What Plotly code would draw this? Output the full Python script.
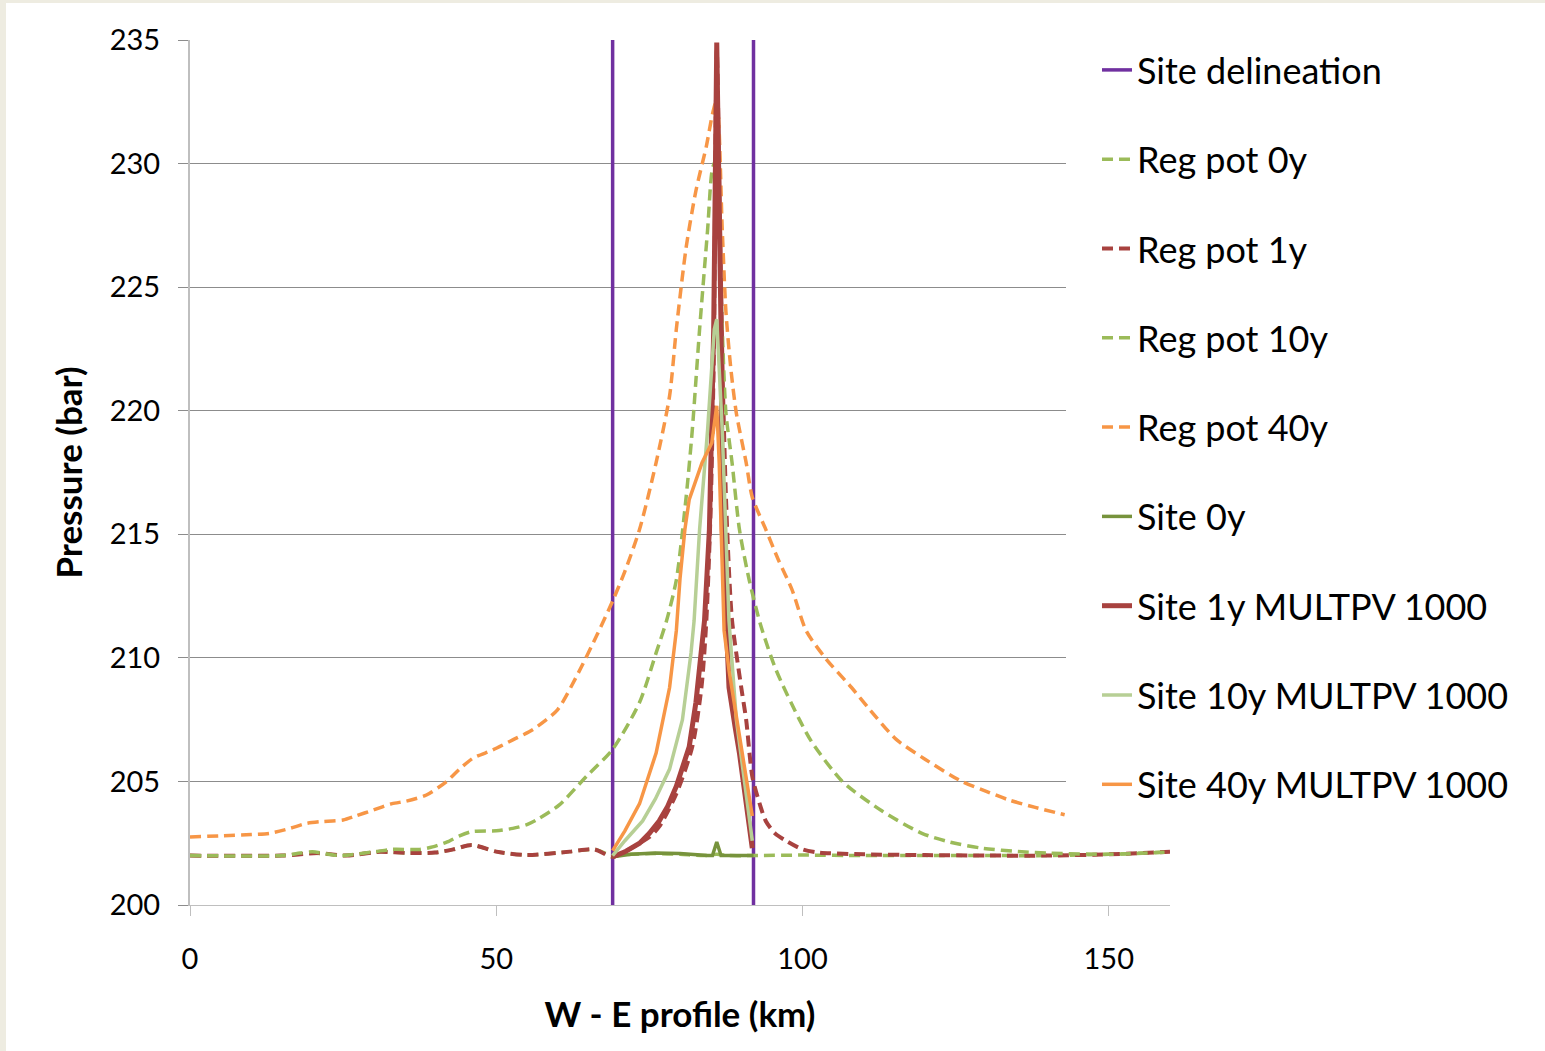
import plotly.graph_objects as go

# ---- data: W-E pressure profile (km, bar) ----
site_bounds_km = [69, 92]

reg0_x = [0, 15, 20, 25, 31, 36, 40, 43, 46, 50, 55, 62, 66, 69, 72, 76, 80, 84, 86, 88, 92,
          100, 110, 120, 130, 140, 150, 160]
reg0_y = [202.0, 202.0, 202.1, 202.0, 202.15, 202.1, 202.12, 202.25, 202.43, 202.16, 202.02,
          202.16, 202.25, 202.0, 202.05, 202.08, 202.05, 202.0, 202.05, 202.0, 202.0,
          202.02, 202.0, 202.0, 202.0, 202.0, 202.05, 202.15]

reg1_x = [0, 15, 21, 25.5, 31, 36, 40, 43, 46, 50, 55, 62, 66, 69, 72, 75, 76.6, 79.4, 82, 83.5,
          84.3, 85, 85.5, 86, 86.5, 87, 87.5, 88, 88.5, 90, 90.8, 91.8, 93, 94, 95.5, 97.3,
          100, 102.7, 110, 120, 130, 140, 150, 160]
reg1_y = [202.0, 202.0, 202.1, 202.0, 202.15, 202.1, 202.12, 202.25, 202.43, 202.16, 202.02,
          202.16, 202.25, 201.95, 202.3, 202.75, 203.17, 204.5, 206.4, 208.8,
          211.5, 216.0, 222.0, 234.6, 228.0, 221.0, 216.5, 213.5, 211.5, 208.8, 207.5, 205.2,
          204.1, 203.4, 202.9, 202.6, 202.25, 202.12, 202.05, 202.02, 202.0, 202.0, 202.05, 202.15]

reg10_x = [0, 15, 18, 20, 24.5, 30, 33, 37.5, 39.6, 42, 44, 46, 50, 52.7, 55, 57, 60.3, 64.7,
           69, 73.4, 76.1, 77.8, 79.4, 81, 82, 83.2, 84.5, 85.3, 86, 86.4, 86.9, 87.5, 88.5,
           89.7, 91.3, 93.2, 95.7, 99.5, 101.5, 106.5, 113, 119.5, 124, 129.3, 135.8, 140,
           150, 160]
reg10_y = [202.0, 202.0, 202.1, 202.15, 202.0, 202.15, 202.25, 202.25, 202.35, 202.55, 202.8,
           202.97, 203.0, 203.1, 203.25, 203.5, 204.05, 205.2,
           206.3, 208.2, 210.2, 211.5, 213.15, 216.5, 219.2, 223.3, 227.3, 229.8, 230.2, 227.3,
           223.3, 219.9, 217.9, 215.2, 213.15, 211.3, 209.5, 207.5, 206.6, 205.0, 203.8, 202.9,
           202.55, 202.3, 202.15, 202.1, 202.05, 202.15]

reg40_x = [0, 5, 10, 13, 16.3, 19, 21.2, 25, 27, 29.9, 33, 35.3, 38.6, 41.9, 44, 46.2, 49.4,
           52.7, 56, 60, 63, 66.4, 69, 71, 73.4, 76.1, 78.3, 79.4, 81, 82.6, 84.3, 85.3, 86,
           86.9, 87.5, 88.3, 89.2, 90.8, 91.8, 94, 96, 98.3, 100.6, 103.7, 108, 111, 115.3,
           120, 126, 130, 133.7, 138, 142.8]
reg40_y = [202.75, 202.8, 202.85, 202.9, 203.1, 203.3, 203.37, 203.44, 203.6, 203.84, 204.1,
           204.2, 204.45, 205.0, 205.5, 205.94, 206.27, 206.68, 207.1, 207.9, 209.2, 210.9,
           212.3, 213.5, 215.2, 217.9, 220.6, 223.3, 226.6, 228.9, 230.7, 232.0, 232.6,
           227.3, 224.0, 221.7, 219.9, 217.9, 216.5, 215.2, 214.0, 212.75, 211.1, 210.0,
           208.8, 207.9, 206.7, 205.9, 205.0, 204.6, 204.25, 203.95, 203.65]

site0_x = [69, 72, 76, 80, 84.5, 85.3, 86, 86.7, 92]
site0_y = [201.95, 202.05, 202.1, 202.08, 202.0, 202.0, 202.55, 202.0, 202.0]

site1_x = [69, 71, 73.4, 75, 76.6, 78, 79.4, 80.5, 81.5, 82.6, 83.5, 84, 84.8, 85.2, 85.5, 86,
           86.3, 86.7, 86.9, 87.5, 88, 89, 89.7, 91.8]
site1_y = [201.95, 202.15, 202.5, 202.9, 203.4, 204.0, 204.8, 205.6, 206.4, 208.2, 210.2,
           211.5, 215.2, 219.2, 223.3, 234.9, 230.0, 223.3, 215.2, 211.5, 208.8, 207.2,
           206.15, 202.3]

site10_x = [69, 71, 73.9, 76, 78.3, 80.4, 81.8, 82.3, 83.2, 84.5, 85.6, 86, 86.9, 87.5, 88,
            89.2, 91.8]
site10_y = [202.0, 202.6, 203.4, 204.3, 205.5, 207.5, 210.2, 211.5, 215.2, 219.2, 223.3,
            223.7, 219.2, 215.2, 211.5, 207.5, 202.6]

site40_x = [69, 71, 73.4, 76.1, 78.3, 79.4, 80, 80.8, 81.5, 83.6, 85.2, 86, 86.4, 86.7, 87.2,
            88, 89.7, 91.8]
site40_y = [202.2, 203.0, 204.1, 206.15, 208.8, 211.1, 213.2, 215.2, 216.4, 217.9, 218.7,
            220.2, 217.9, 215.2, 211.1, 209.5, 206.8, 203.6]

y_range = [200, 235]
x_range = [0, 160]

PURPLE = "#7030A0"
OLIVE = "#9BBB59"
OLIVE_DARK = "#77933C"
OLIVE_LIGHT = "#B7CF95"
RED = "#A8423F"
ORANGE = "#F79646"
DASH = "11px,6px"
FONT = "Lato, 'Open Sans', sans-serif"

fig = go.Figure()

# site boundaries as two vertical segments
bx, by = [], []
for b in site_bounds_km:
    bx += [b, b, None]
    by += [y_range[0], y_range[1], None]

# name, x, y, colour, dash, width, smoothed
series = [
    ("Site delineation", bx, by, PURPLE, "solid", 3.5, False),
    ("Reg pot 0y", reg0_x, reg0_y, OLIVE, DASH, 3.5, True),
    ("Reg pot 1y", reg1_x, reg1_y, RED, DASH, 4, True),
    ("Reg pot 10y", reg10_x, reg10_y, OLIVE, DASH, 3.5, True),
    ("Reg pot 40y", reg40_x, reg40_y, ORANGE, DASH, 3.5, True),
    ("Site 0y", site0_x, site0_y, OLIVE_DARK, "solid", 3.5, False),
    ("Site 1y MULTPV 1000", site1_x, site1_y, RED, "solid", 5, False),
    ("Site 10y MULTPV 1000", site10_x, site10_y, OLIVE_LIGHT, "solid", 3.5, False),
    ("Site 40y MULTPV 1000", site40_x, site40_y, ORANGE, "solid", 3.5, False),
]

for i, (name, xs, ys, color, dash, width, smooth) in enumerate(series):
    line = dict(color=color, dash=dash, width=width)
    if smooth:
        line.update(shape="spline", smoothing=0.7)
    fig.add_trace(go.Scatter(
        x=xs, y=ys, name=name, mode="lines", legendgroup=f"g{i}",
        line=line, connectgaps=False, hoverinfo="skip",
    ))

# plot geometry in pixels
W, H = 1545, 1051
L, R, T, B = 190, 1170, 40, 905
pw, ph = R - L, B - T


def px_x(p):
    return (p - L) / pw


def px_y(p):
    return (B - p) / ph


shapes = [
    # white sheet over the tan page border
    dict(type="rect", xref="paper", yref="paper", layer="below",
         x0=px_x(6), x1=px_x(W + 5), y0=px_y(H + 5), y1=px_y(3),
         fillcolor="white", line=dict(width=0)),
    # legend panel covering the right part of the plot
    dict(type="rect", xref="paper", yref="paper", layer="above",
         x0=px_x(1066), x1=px_x(1172), y0=px_y(840), y1=px_y(36),
         fillcolor="white", line=dict(width=0)),
]

fig.update_layout(
    width=W, height=H,
    margin=dict(l=L, r=W - R, t=T, b=H - B, pad=0),
    paper_bgcolor="#EEECE1",
    plot_bgcolor="white",
    font=dict(family=FONT, color="black"),
    shapes=shapes,
    showlegend=True,
    legend=dict(
        x=px_x(1097), y=px_y(40), xanchor="left", yanchor="top",
        font=dict(family=FONT, size=36, color="black"),
        bgcolor="rgba(0,0,0,0)", borderwidth=0,
        traceorder="grouped", tracegroupgap=39.5,
        itemwidth=30,
    ),
    xaxis=dict(
        range=x_range, tickvals=[0, 50, 100, 150], showgrid=False, zeroline=False,
        showline=True, linecolor="#BFBFBF", linewidth=1,
        ticks="outside", ticklen=10, tickcolor="#BFBFBF", tickwidth=1,
        tickfont=dict(family=FONT, size=29), ticklabelstandoff=18,
        title=dict(text="<b>W - E profile (km)</b>", font=dict(family=FONT, size=35),
                   standoff=28),
        automargin=False,
    ),
    yaxis=dict(
        range=y_range, tickvals=[200, 205, 210, 215, 220, 225, 230, 235],
        showgrid=True, gridcolor="#8C8C8C", gridwidth=1, zeroline=False,
        showline=True, linecolor="#BFBFBF", linewidth=2,
        ticks="outside", ticklen=10, tickcolor="#8C8C8C", tickwidth=1,
        tickfont=dict(family=FONT, size=29), ticklabelstandoff=12,
        title=dict(text="<b>Pressure (bar)</b>", font=dict(family=FONT, size=35),
                   standoff=16),
        automargin=False,
    ),
)

fig.write_html("out.html")
